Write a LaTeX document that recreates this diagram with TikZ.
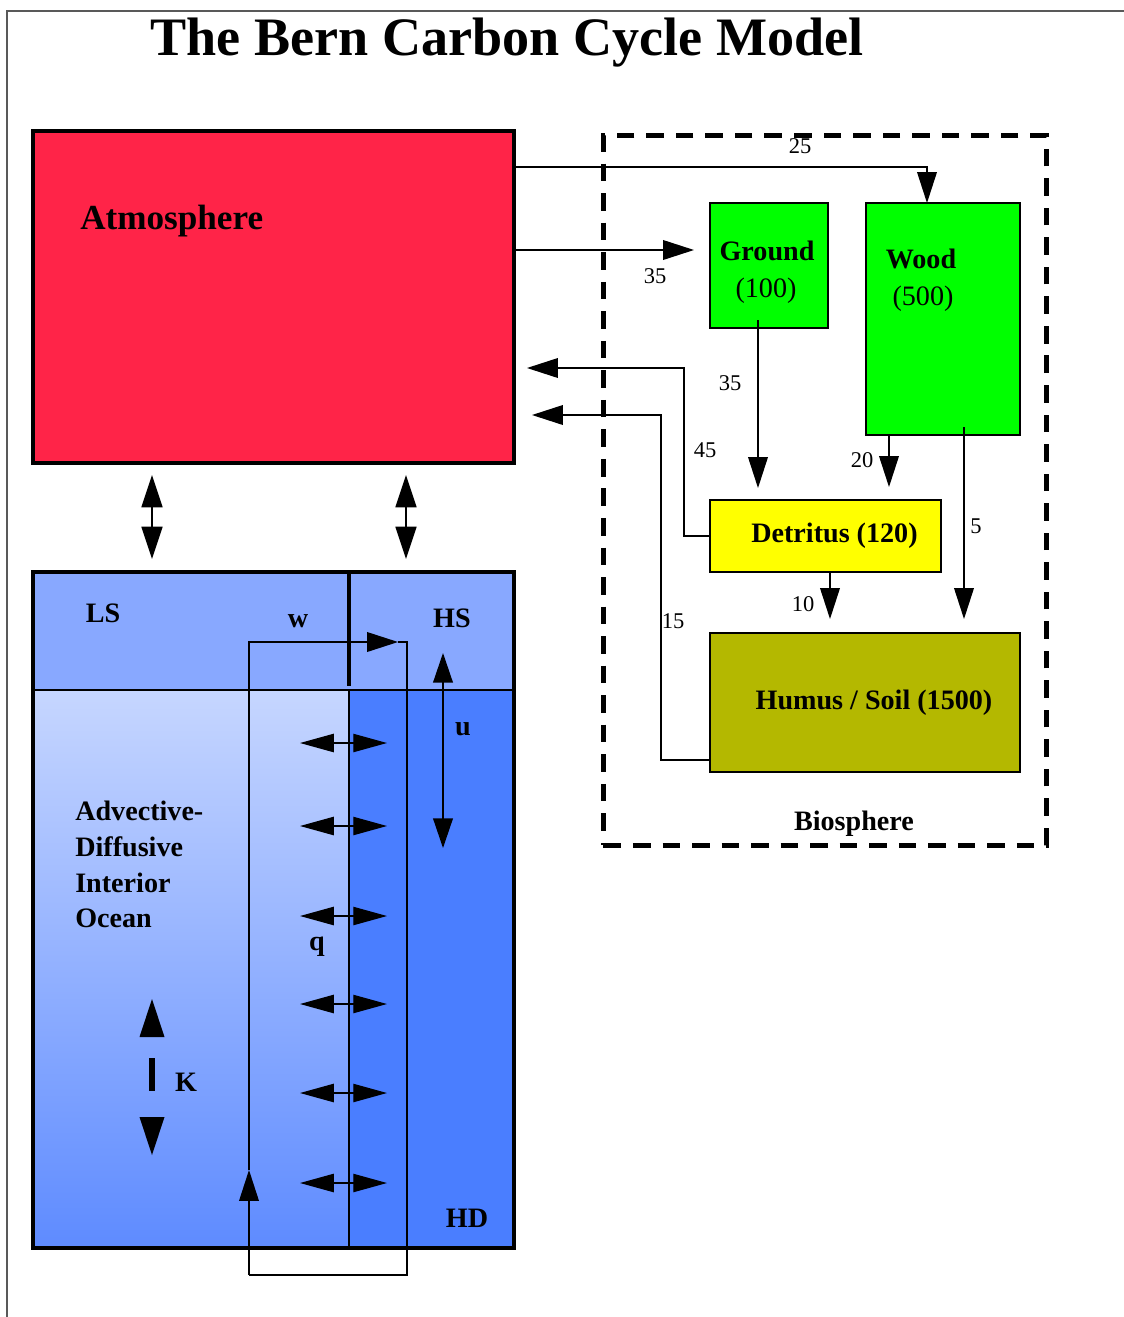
\documentclass[tikz,border=0pt]{standalone}
\usepackage{fontspec}
\setmainfont{Liberation Serif}
\usepackage{tikz}
\usetikzlibrary{positioning,arrows.meta,calc}
\usepackage{xcolor}
\definecolor{atmRed}{HTML}{FF2448}
\definecolor{leafGreen}{HTML}{00FF00}
\definecolor{detrYellow}{HTML}{FFFF00}
\definecolor{soilOlive}{HTML}{B4B800}
\definecolor{surfBlue}{HTML}{88A8FF}
\definecolor{deepLight}{HTML}{C6D6FF}
\definecolor{deepDark}{HTML}{5E8BFF}
\definecolor{hdBlue}{HTML}{4A7EFF}
\newlength\pxu
\setlength\pxu{0.025cm}

\begin{document}
\begin{tikzpicture}[x=0.025cm, y=-0.025cm,
    poolBox/.style={rectangle, draw=black, line width=1.1pt, anchor=north west, inner sep=0pt, outer sep=0pt, align=center, font=\fontsize{20}{26}\selectfont\bfseries},
    region/.style={rectangle, draw=none, anchor=north west, inner sep=0pt, outer sep=0pt},
    lab/.style={font=\fontsize{20}{25.4}\selectfont\bfseries, inner sep=0pt},
    num/.style={font=\fontsize{16}{18}\selectfont, inner sep=0pt, anchor=base},
    thinLine/.style={line width=1pt},
    flowArrow/.style={-{Triangle[length=22pt, width=14pt]}, line width=1pt},
    dblArrow/.style={{Triangle[length=23pt, width=15pt]}-{Triangle[length=23pt, width=15pt]}, line width=1pt},
    qArrow/.style={{Triangle[length=24pt, width=13pt]}-{Triangle[length=24pt, width=13pt]}, line width=1pt}
]
    \useasboundingbox (0,0) rectangle (1124,1317);
    \draw[gray!70!black, line width=0.9pt] (7,1317) -- (7,11) -- (1124,11);

    \node[inner sep=0pt, anchor=base, font=\fontsize{38.5}{40}\selectfont\bfseries] (title) at (507,55) {The Bern Carbon Cycle Model};

    % atmosphere
    \node[poolBox, fill=atmRed, line width=2.8pt, minimum width=481*\pxu, minimum height=332*\pxu] (atm) at (33,131) {};
    \node[lab, anchor=base west, font=\fontsize{25}{27}\selectfont\bfseries] (atmLab) at (80,229) {Atmosphere};

    % biosphere
    \node[rectangle, draw=black, line width=3.5pt, dash pattern=on 12.5pt off 8.5pt, anchor=north west, inner sep=0pt, minimum width=443*\pxu, minimum height=710*\pxu] (bio) at (601,133) {};
    \node[lab, anchor=base] (bioLab) at (854,830) {Biosphere};

    \node[poolBox, fill=leafGreen, minimum width=118*\pxu, minimum height=125*\pxu] (ground) at (710,203) {};
    \node[lab, anchor=base] (groundLab) at (767,260) {Ground};
    \node[lab, anchor=base, font=\fontsize{20}{24}\selectfont] (groundVal) at (766,297) {(100)};
    \node[poolBox, fill=leafGreen, minimum width=154*\pxu, minimum height=232*\pxu] (wood) at (866,203) {};
    \node[lab, anchor=base] (woodLab) at (921,268) {Wood};
    \node[lab, anchor=base, font=\fontsize{20}{24}\selectfont] (woodVal) at (923,305) {(500)};
    \node[poolBox, fill=detrYellow, minimum width=231*\pxu, minimum height=72*\pxu] (detr) at (710,500) {\hspace*{18\pxu}Detritus (120)};
    \node[poolBox, fill=soilOlive, minimum width=310*\pxu, minimum height=139*\pxu] (humus) at (710,633) {\hspace*{18\pxu}Humus / Soil (1500)};

    % fluxes
    \draw[flowArrow] ($(atm.north east)+(0,36)$) -| ($(wood.north west)+(61,0)$);
    \draw[flowArrow] ($(atm.north east)+(0,119)$) -- ($(ground.north west)+(-16,47)$);
    \draw[flowArrow] ($(ground.south west)+(48,-8)$) -- ($(detr.north west)+(48,-12)$);
    \draw[flowArrow] ($(wood.south west)+(23,0)$) -- ($(detr.north west)+(179,-13)$);
    \draw[flowArrow] ($(wood.south west)+(98,-8)$) -- ($(humus.north west)+(254,-14)$);
    \draw[flowArrow] ($(detr.south west)+(120,0)$) -- ($(humus.north west)+(120,-14)$);
    \draw[flowArrow] ($(detr.south west)+(0,-36)$) -- ++(-26,0) |- ($(atm.north east)+(13,237)$);
    \draw[flowArrow] ($(humus.south west)+(0,-12)$) -- ++(-49,0) |- ($(atm.north east)+(18,284)$);

    \node[num] at (800,153) {25};
    \node[num] at (655,283) {35};
    \node[num] at (730,390) {35};
    \node[num] at (705,457) {45};
    \node[num] at (862,467) {20};
    \node[num] at (976,533) {5};
    \node[num] at (803,611) {10};
    \node[num] at (673,628) {15};

    % ocean
    \node[region, fill=surfBlue, minimum width=316*\pxu, minimum height=118*\pxu] (ls) at (33,572) {};
    \node[region, fill=surfBlue, minimum width=165*\pxu, minimum height=118*\pxu] (hs) at (349,572) {};
    \node[region, top color=deepLight, bottom color=deepDark, minimum width=316*\pxu, minimum height=558*\pxu] (interior) at (33,690) {};
    \node[region, fill=hdBlue, minimum width=165*\pxu, minimum height=558*\pxu] (hd) at (349,690) {};
    \draw[thinLine] (interior.north west) -- (hd.north east);
    \draw[thinLine] (interior.north east) -- (interior.south east);
    \draw[line width=2.5pt] (ls.north east) -- ($(ls.south east)+(0,-4)$);
    \draw[line width=2.8pt] (ls.north west) rectangle (hd.south east);

    \draw[dblArrow] ($(atm.south west)+(119,12)$) -- ($(ls.north west)+(119,-13)$);
    \draw[dblArrow] ($(atm.south west)+(373,12)$) -- ($(ls.north west)+(373,-13)$);

    \node[lab, anchor=base] (lsLab) at (103,622) {LS};
    \node[lab, anchor=base] (wLab) at (298,627) {w};
    \node[lab, anchor=base] (hsLab) at (452,627) {HS};
    \node[lab, anchor=base] (uLab) at (463,735) {u};
    \node[lab, anchor=base] (qLab) at (317,950) {q};
    \node[lab, anchor=base] (kLab) at (186,1091) {K};
    \node[lab, anchor=base] (hdLab) at (467,1227) {HD};
    \node[lab, anchor=north west, align=left] (advLab) at (75,801) {Advective-\\Diffusive\\Interior\\Ocean};

    % overturning loop
    \coordinate (loopSW) at (249,1275);
    \coordinate (loopNW) at (249,642);
    \coordinate (loopNE) at (407,642);
    \coordinate (loopSE) at (407,1275);
    \draw[flowArrow] (loopSW) -- (249,1170);
    \draw[flowArrow] (249,1170) -- (loopNW) -- (398,642);
    \draw[thinLine] (398,642) -- (loopNE) -- (loopSE) -- (loopSW);

    % upwelling u
    \draw[dblArrow, {Triangle[length=21pt, width=14pt]}-{Triangle[length=21pt, width=14pt]}] (443,653) -- (443,848);

    % exchange q
    \foreach \qy in {743,826,916,1004,1093,1183}
        \draw[qArrow] (300,\qy) -- (387,\qy);

    % diffusion K
    \fill (152,999) -- (139.5,1037) -- (164.5,1037) -- cycle;
    \draw[line width=4.3pt] (152,1058) -- (152,1091);
    \fill (152,1155) -- (139.5,1117) -- (164.5,1117) -- cycle;
\end{tikzpicture}
\end{document}
